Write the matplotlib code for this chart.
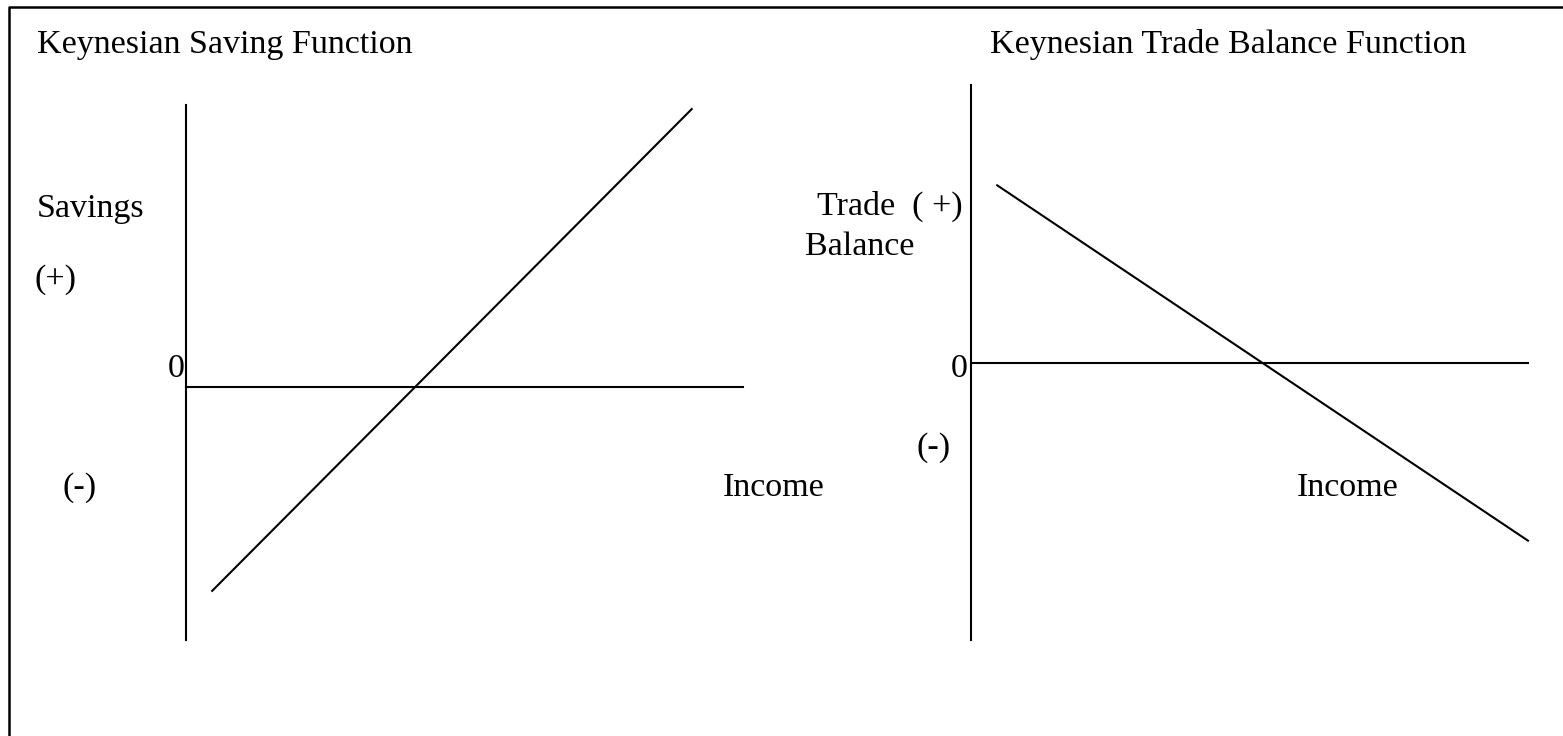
import numpy as np
from matplotlib import pyplot as plt

plt.rcParams['font.family'] = ['Liberation Serif', 'DejaVu Serif']

# Keynesian saving function (left panel), income in arbitrary units
saving_income = [0.47, 9.08]
saving_values = [-3.66, 4.99]

# Keynesian trade balance function (right panel)
trade_income = [0.47, 10.0]
trade_values = [3.19, -3.19]

titles = ['Keynesian Saving Function', 'Keynesian Trade Balance Function']

W, H = 1563, 736
fig = plt.figure(figsize=(W / 100, H / 100), dpi=100)

# frame in pixel coordinates for the border and labels
frame = fig.add_axes([0, 0, 1, 1])
frame.set_xlim(0, W)
frame.set_ylim(H, 0)
frame.axis('off')
frame.plot([9, 9, W + 5], [H + 5, 7, 7], color='black', lw=1.8)


def panel(left_px, top_px, right_px, bottom_px, origin_y_px, x_max):
    # axes whose data range maps onto the given pixel box
    ax = fig.add_axes([left_px / W, (H - bottom_px) / H,
                       (right_px - left_px) / W, (bottom_px - top_px) / H])
    scale = (right_px - left_px) / x_max
    ax.set_xlim(0, x_max)
    ax.set_ylim((origin_y_px - bottom_px) / scale, (origin_y_px - top_px) / scale)
    ax.axis('off')
    ax.patch.set_alpha(0)
    y0, y1 = ax.get_ylim()
    ax.plot([0, 0], [y0, y1], color='black', lw=1.5, clip_on=False)
    ax.plot([0, x_max], [0, 0], color='black', lw=1.5, clip_on=False)
    return ax


ax1 = panel(186, 105, 743, 640, 387, 10)
ax1.plot(saving_income, saving_values, color='black', lw=1.5, clip_on=False)

ax2 = panel(971, 85, 1528, 640, 363, 10)
ax2.plot(trade_income, trade_values, color='black', lw=1.5, clip_on=False)

fs = 24.5
kw = dict(fontsize=fs, va='baseline', color='black')
frame.text(37, 53, titles[0], ha='left', **kw)
frame.text(990, 53, titles[1], ha='left', **kw)
frame.text(37, 217, 'Savings', ha='left', **kw)
frame.text(35, 288, '(+)', ha='left', **kw)
frame.text(185, 377, '0', ha='right', **kw)
frame.text(63, 496, '(-)', ha='left', **kw)
frame.text(723, 496, 'Income', ha='left', **kw)

frame.text(817, 215, 'Trade  ( +)', ha='left', **kw)
frame.text(805, 255, 'Balance', ha='left', **kw)
frame.text(968, 377, '0', ha='right', **kw)
frame.text(917, 456, '(-)', ha='left', **kw)
frame.text(1297, 496, 'Income', ha='left', **kw)

fig.savefig('out.png', dpi=100)
